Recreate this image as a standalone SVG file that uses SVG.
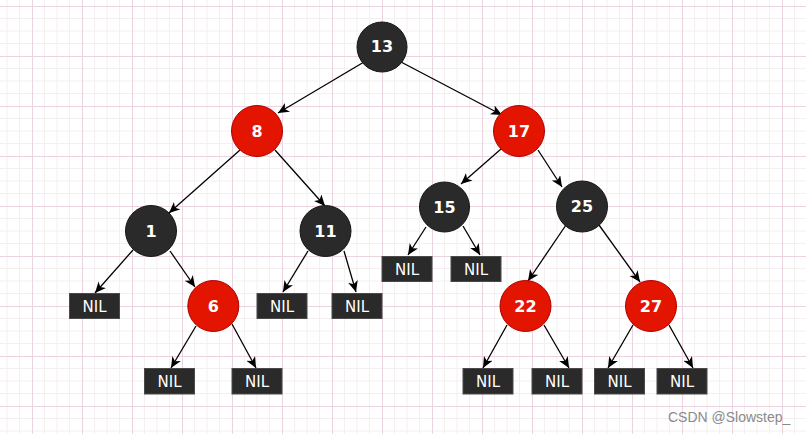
<svg xmlns="http://www.w3.org/2000/svg" width="806" height="434" viewBox="0 0 806 434">
<defs>
<pattern id="grid" patternUnits="userSpaceOnUse" x="32" y="6" width="50" height="50">
<rect width="50" height="50" fill="#ffffff"/>
<path d="M12.5,0V50M25,0V50M37.5,0V50M0,12.5H50M0,25H50M0,37.5H50" stroke="#f4f0f2" stroke-width="1" fill="none"/>
<path d="M0.5,0V50M0,0.5H50" stroke="#ebd3e2" stroke-width="1" fill="none"/>
</pattern>
<marker id="arr" markerUnits="userSpaceOnUse" markerWidth="14" markerHeight="12" refX="11" refY="5" orient="auto">
<path d="M0,0 L11,5 L0,10 L3,5 Z" fill="#000"/>
</marker>
</defs>
<style>
.blk{fill:#2a2a2a;stroke:#151515;stroke-width:1}
.red{fill:#e31400;stroke:#b20000;stroke-width:1}
.nil{fill:#2a2a2a;stroke:#4a4a4a;stroke-width:1}
.num{font-family:"DejaVu Sans",sans-serif;font-weight:bold;font-size:16px;fill:#fff;text-anchor:middle}
.nt{font-family:"DejaVu Sans",sans-serif;font-size:15px;fill:#fff;text-anchor:middle}
.e{stroke:#000;stroke-width:1.3;fill:none;marker-end:url(#arr)}
</style>
<rect width="806" height="434" fill="url(#grid)"/>
<g id="connectors">
<line class="e" x1="364" y1="62" x2="278" y2="113"/>
<line class="e" x1="401" y1="62" x2="502" y2="115"/>
<line class="e" x1="240" y1="150" x2="169" y2="213"/>
<line class="e" x1="275" y1="150" x2="325" y2="206"/>
<line class="e" x1="133" y1="250" x2="95" y2="293"/>
<line class="e" x1="170" y1="251" x2="195" y2="287"/>
<line class="e" x1="196" y1="326" x2="171" y2="368"/>
<line class="e" x1="232" y1="324" x2="256" y2="368"/>
<line class="e" x1="308" y1="251" x2="283" y2="292"/>
<line class="e" x1="344" y1="251" x2="356" y2="292"/>
<line class="e" x1="501" y1="149" x2="461" y2="184"/>
<line class="e" x1="538" y1="150" x2="562" y2="187"/>
<line class="e" x1="426" y1="227" x2="408" y2="255"/>
<line class="e" x1="463" y1="226" x2="480" y2="255"/>
<line class="e" x1="566" y1="225" x2="528" y2="281"/>
<line class="e" x1="599" y1="225" x2="640" y2="282"/>
<line class="e" x1="507" y1="325" x2="483" y2="368"/>
<line class="e" x1="544" y1="325" x2="569" y2="368"/>
<line class="e" x1="633" y1="325" x2="608" y2="368"/>
<line class="e" x1="669" y1="325" x2="693" y2="368"/>
</g>
<g id="n13"><circle class="blk" cx="382" cy="47" r="25"/><text class="num" x="382" y="52">13</text></g>
<g id="n8"><circle class="red" cx="257" cy="131" r="25.5"/><text class="num" x="257" y="137">8</text></g>
<g id="n17"><circle class="red" cx="519" cy="131" r="25.5"/><text class="num" x="519" y="137">17</text></g>
<g id="n1"><circle class="blk" cx="151" cy="231" r="25.5"/><text class="num" x="151" y="237">1</text></g>
<g id="n11"><circle class="blk" cx="325.5" cy="231" r="25.5"/><text class="num" x="325.5" y="237">11</text></g>
<g id="n15"><circle class="blk" cx="444.5" cy="207" r="25"/><text class="num" x="444.5" y="213">15</text></g>
<g id="n25"><circle class="blk" cx="582" cy="206.5" r="25.5"/><text class="num" x="582" y="212">25</text></g>
<g id="n6"><circle class="red" cx="213.3" cy="306" r="25.5"/><text class="num" x="213.3" y="312">6</text></g>
<g id="n22"><circle class="red" cx="525.5" cy="306" r="25.5"/><text class="num" x="525.5" y="312">22</text></g>
<g id="n27"><circle class="red" cx="651" cy="306" r="25.5"/><text class="num" x="651" y="312">27</text></g>
<g id="nil1"><rect class="nil" x="69.5" y="293.5" width="50" height="25"/><text class="nt" x="94.5" y="312">NIL</text></g>
<g id="nil2"><rect class="nil" x="257" y="293.5" width="50" height="25"/><text class="nt" x="282" y="312">NIL</text></g>
<g id="nil3"><rect class="nil" x="332" y="293.5" width="50" height="25"/><text class="nt" x="357" y="312">NIL</text></g>
<g id="nil4"><rect class="nil" x="382" y="256.5" width="50" height="25"/><text class="nt" x="407" y="275">NIL</text></g>
<g id="nil5"><rect class="nil" x="451" y="256.5" width="50" height="25"/><text class="nt" x="476" y="275">NIL</text></g>
<g id="nil6"><rect class="nil" x="144.5" y="368.5" width="50" height="25.5"/><text class="nt" x="169.5" y="387">NIL</text></g>
<g id="nil7"><rect class="nil" x="232" y="368.5" width="50" height="25.5"/><text class="nt" x="257" y="387">NIL</text></g>
<g id="nil8"><rect class="nil" x="463" y="368.5" width="50" height="25.5"/><text class="nt" x="488" y="387">NIL</text></g>
<g id="nil9"><rect class="nil" x="532" y="368.5" width="50" height="25.5"/><text class="nt" x="557" y="387">NIL</text></g>
<g id="nil10"><rect class="nil" x="594.5" y="368.5" width="50" height="25.5"/><text class="nt" x="619.5" y="387">NIL</text></g>
<g id="nil11"><rect class="nil" x="657" y="368.5" width="50" height="25.5"/><text class="nt" x="682" y="387">NIL</text></g>
<text x="668" y="422" font-family="Liberation Sans, sans-serif" font-size="14" fill="#8a8a8a">CSDN @Slowstep_</text>
</svg>
